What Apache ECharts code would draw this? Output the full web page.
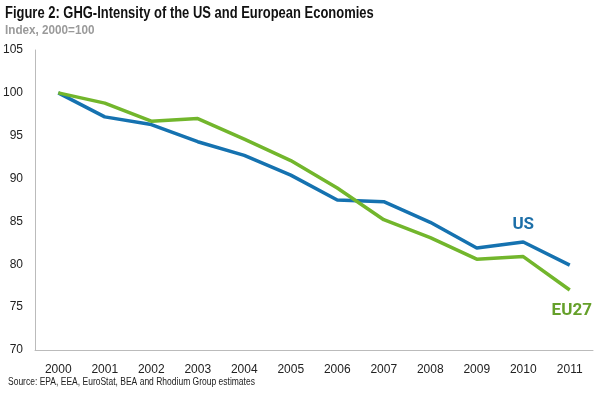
<!DOCTYPE html>
<html><head><meta charset="utf-8">
<script src="https://cdn.jsdelivr.net/npm/echarts@6/dist/echarts.min.js"></script>
<style>html,body{margin:0;padding:0;background:#fff}#c{width:600px;height:407px}</style>
</head><body><div id="c"></div>
<script>
const years = ['2000','2001','2002','2003','2004','2005','2006','2007','2008','2009','2010','2011'];
const usValues = [100, 97.2, 96.3, 94.3, 92.7, 90.4, 87.5, 87.3, 84.9, 81.9, 82.6, 79.9];
const eu27Values = [100, 98.8, 96.7, 97.0, 94.6, 92.1, 88.9, 85.2, 83.1, 80.6, 80.9, 77.0];
const yTicks = [70, 75, 80, 85, 90, 95, 100, 105];

const chart = echarts.init(document.getElementById('c'));
const sans = '"Liberation Sans", Arial, sans-serif';
chart.setOption({
  animation: false,
  graphic: [
    {type: 'text', left: 5, top: 6, scaleX: 0.81, originX: 0,
     style: {text: 'Figure 2: GHG-Intensity of the US and European Economies', font: 'bold 16px "Liberation Sans", Arial, sans-serif', fill: '#111'}},
    {type: 'text', left: 5, top: 24, scaleX: 0.9, originX: 0,
     style: {text: 'Index, 2000=100', font: 'bold 13px "Liberation Sans", Arial, sans-serif', fill: '#9a9a9a'}},
    {type: 'text', left: 8, top: 377, scaleX: 0.85, originX: 0,
     style: {text: 'Source: EPA, EEA, EuroStat, BEA and Rhodium Group estimates', font: '10px "Liberation Sans", Arial, sans-serif', fill: '#222'}}
  ],
  grid: {left: 34, right: 7, top: 50, bottom: 57},
  xAxis: {
    type: 'category', data: years, boundaryGap: true,
    axisLine: {lineStyle: {color: '#bbbbbb', width: 1}},
    axisTick: {show: false},
    axisLabel: {fontFamily: sans, fontSize: 12, color: '#222', margin: 14}
  },
  yAxis: {
    type: 'value', min: 70, max: 105, interval: 5,
    axisLine: {show: true, lineStyle: {color: '#bbbbbb', width: 1}},
    axisTick: {show: false},
    splitLine: {show: false},
    axisLabel: {fontFamily: sans, fontSize: 12, color: '#222', margin: 12,
      formatter: v => yTicks.includes(v) ? String(v) : ''}
  },
  series: [
    {name: 'US', type: 'line', data: usValues, symbol: 'none',
     lineStyle: {color: '#1572b0', width: 3.5}, itemStyle: {color: '#1572b0'},
     markPoint: {symbol: 'circle', symbolSize: 1, itemStyle: {opacity: 0},
       data: [{coord: ['2010', 82.6], value: 'US'}],
       label: {show: true, position: 'inside', formatter: 'US', offset: [0, -17], fontFamily: 'Roboto, sans-serif', fontWeight: 'bold', fontSize: 17, color: '#1d6fa8', opacity: 1}}},
    {name: 'EU27', type: 'line', data: eu27Values, symbol: 'none',
     lineStyle: {color: '#72b62c', width: 3.5}, itemStyle: {color: '#72b62c'},
     markPoint: {symbol: 'circle', symbolSize: 1, itemStyle: {opacity: 0},
       data: [{coord: ['2011', 77.0], value: 'EU27'}],
       label: {show: true, position: 'inside', formatter: 'EU27', offset: [2, 21], fontFamily: 'Roboto, sans-serif', fontWeight: 'bold', fontSize: 17, color: '#65a02a', opacity: 1}}}
  ]
});
</script></body></html>
